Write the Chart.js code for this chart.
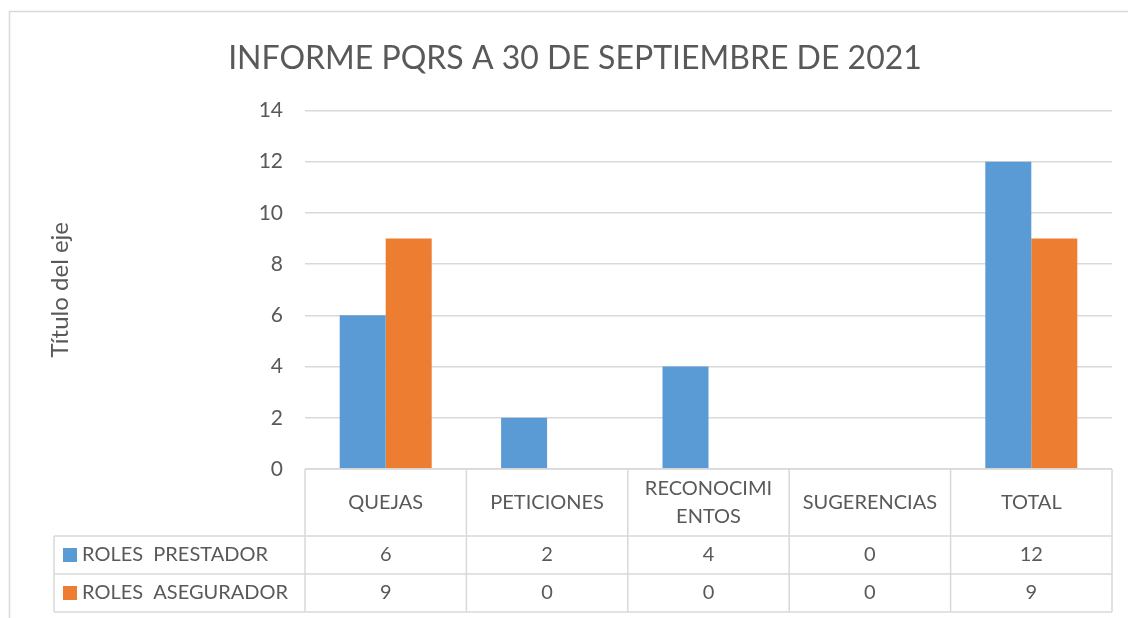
<!DOCTYPE html>
<html>
<head>
<meta charset="utf-8">
<script src="https://cdn.jsdelivr.net/npm/chart.js@4"></script>
<style>
  html, body { margin: 0; padding: 0; background: #fff; }
  #wrap { width: 1128px; height: 618px; }
</style>
</head>
<body>
<div id="wrap"><canvas id="pqrsChart"></canvas></div>
<script>
// Datos del informe
const categories = ['QUEJAS', 'PETICIONES', ['RECONOCIMI', 'ENTOS'], 'SUGERENCIAS', 'TOTAL'];
const prestadorData = [6, 2, 4, 0, 12];
const aseguradorData = [9, 0, 0, 0, 9];
const seriesNames = ['ROLES  PRESTADOR', 'ROLES  ASEGURADOR'];
const yTicks = [0, 2, 4, 6, 8, 10, 12, 14];

const textColor = '#595959';
const lineColor = '#d9d9d9';
const fontFamily = 'Lato, "Open Sans", sans-serif';

// frame + data table under the plot
const tablePlugin = {
    id: 'dataTable',
    beforeDraw(chart) {
        const c = chart.ctx;
        c.save();
        c.fillStyle = '#fff';
        c.fillRect(0, 0, chart.width, chart.height);
        c.strokeStyle = lineColor;
        c.lineWidth = 1.5;
        c.strokeRect(9.5, 11.5, chart.width + 20, chart.height + 20);
        c.restore();
    },
    afterDraw(chart) {
        const c = chart.ctx;
        const x = chart.scales.x;
        const area = chart.chartArea;
        const colW = (area.right - area.left) / categories.length;
        const top = area.bottom;
        const headerBottom = top + 67;
        const rowH = 38;
        const tableLeft = 54;
        const bottom = headerBottom + rowH * 2;

        c.save();
        c.strokeStyle = lineColor;
        c.lineWidth = 1.5;
        c.beginPath();
        // horizontal lines
        c.moveTo(area.left, top); c.lineTo(area.right, top);
        c.moveTo(tableLeft, headerBottom); c.lineTo(area.right, headerBottom);
        c.moveTo(tableLeft, headerBottom + rowH); c.lineTo(area.right, headerBottom + rowH);
        c.moveTo(tableLeft, bottom); c.lineTo(area.right, bottom);
        // vertical lines
        c.moveTo(tableLeft, headerBottom); c.lineTo(tableLeft, bottom);
        for (let i = 0; i <= categories.length; i++) {
            const px = area.left + colW * i;
            c.moveTo(px, top); c.lineTo(px, bottom);
        }
        c.stroke();

        c.fillStyle = textColor;
        c.font = '20px ' + fontFamily;
        c.textAlign = 'center';
        c.textBaseline = 'middle';
        categories.forEach((cat, i) => {
            const cx = x.getPixelForValue(i);
            const midY = (top + headerBottom) / 2;
            if (Array.isArray(cat)) {
                c.fillText(cat[0], cx, midY - 14);
                c.fillText(cat[1], cx, midY + 14);
            } else {
                c.fillText(cat, cx, midY);
            }
        });

        const rows = [prestadorData, aseguradorData];
        rows.forEach((vals, r) => {
            const cy = headerBottom + rowH * r + rowH / 2;
            vals.forEach((v, i) => {
                c.fillText(String(v), x.getPixelForValue(i), cy);
            });
            const ds = chart.data.datasets[r];
            c.fillStyle = ds.backgroundColor;
            c.fillRect(63, cy - 7, 14, 14);
            c.fillStyle = textColor;
            c.textAlign = 'left';
            c.fillText(seriesNames[r], 82, cy);
            c.textAlign = 'center';
        });
        c.restore();
    }
};

const ctx = document.getElementById('pqrsChart').getContext('2d');
const pqrsChart = new Chart(ctx, {
    type: 'bar',
    data: {
        labels: categories,
        datasets: [
            {
                label: seriesNames[0],
                data: prestadorData,
                backgroundColor: '#5b9bd5',
                categoryPercentage: 0.57,
                barPercentage: 1,
            },
            {
                label: seriesNames[1],
                data: aseguradorData,
                backgroundColor: '#ed7d31',
                categoryPercentage: 0.57,
                barPercentage: 1,
            }
        ]
    },
    options: {
        responsive: true,
        maintainAspectRatio: false,
        animation: false,
        layout: {
            padding: { left: 38, right: 16, top: 0, bottom: 149 }
        },
        plugins: {
            legend: { display: false },
            tooltip: { enabled: false },
            title: {
                display: true,
                text: 'INFORME PQRS A 30 DE SEPTIEMBRE DE 2021',
                color: textColor,
                font: { family: fontFamily, size: 32, weight: 'normal' },
                padding: { top: 39, bottom: 33 }
            }
        },
        scales: {
            x: {
                display: false,
                offset: true,
                grid: { display: false }
            },
            y: {
                min: 0,
                max: 14,
                afterBuildTicks: (scale) => {
                    scale.ticks = yTicks.map(v => ({ value: v }));
                },
                afterFit: (scale) => {
                    scale.width = 267;
                },
                border: { display: false },
                grid: {
                    color: lineColor,
                    lineWidth: 1.5,
                    drawTicks: false
                },
                ticks: {
                    color: textColor,
                    padding: 22,
                    font: { family: fontFamily, size: 21 }
                },
                title: {
                    display: true,
                    text: 'Título del eje',
                    color: textColor,
                    font: { family: fontFamily, size: 24 },
                    padding: { top: 8, bottom: 0 }
                }
            }
        }
    },
    plugins: [tablePlugin]
});
</script>
</body>
</html>
